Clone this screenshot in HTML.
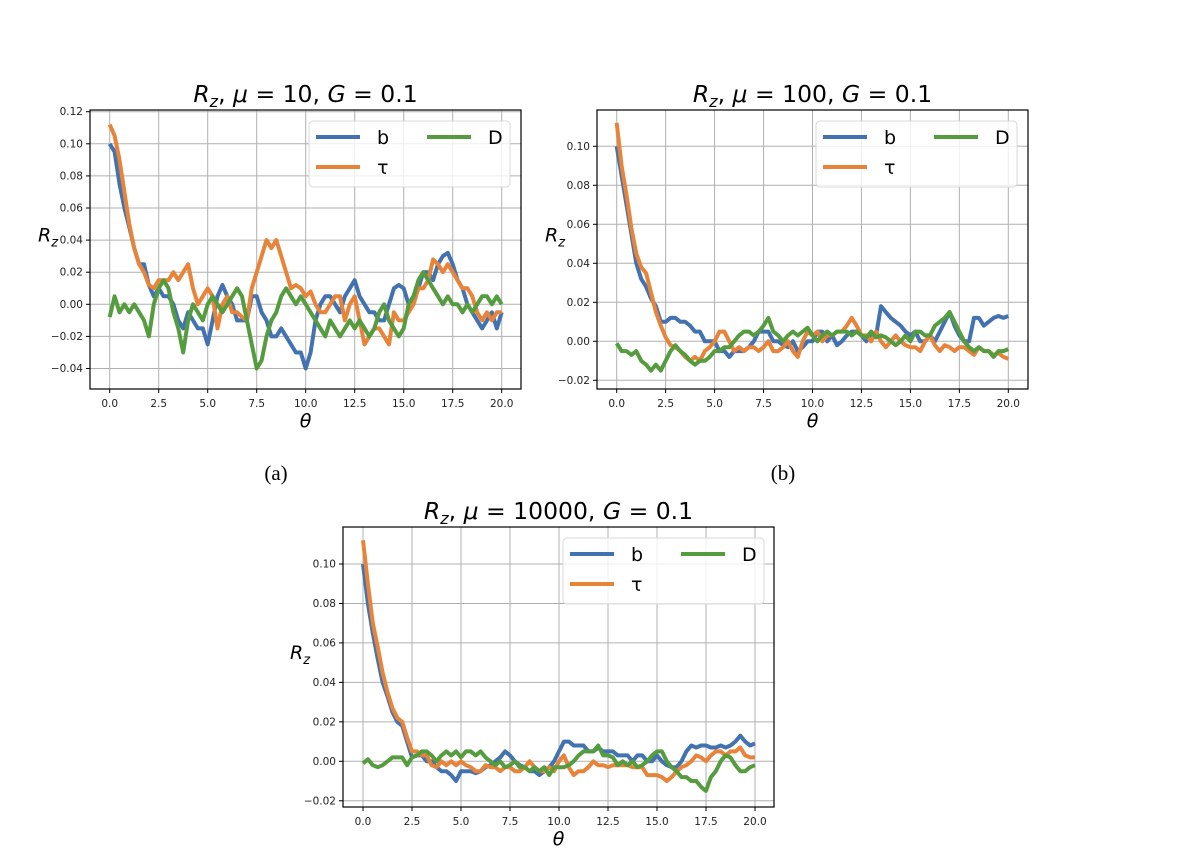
<!DOCTYPE html>
<html><head><meta charset="utf-8"><style>
body{margin:0;background:#fff;}
svg{display:block;font-family:"DejaVu Sans","Liberation Sans",sans-serif;}
</style></head><body>
<svg id="fig" width="1180" height="859" viewBox="0 0 1180 859">
<text x="276" y="480" font-family="'Liberation Serif',serif" font-size="21" text-anchor="middle">(a)</text>
<text x="783" y="480" font-family="'Liberation Serif',serif" font-size="21" text-anchor="middle">(b)</text>
</svg>
<script>
const theta = [0, 20];
const xTicks = ["0.0","2.5","5.0","7.5","10.0","12.5","15.0","17.5","20.0"];
const yTicksA = [-0.04,-0.02,0,0.02,0.04,0.06,0.08,0.10,0.12];
const yTicksB = [-0.02,0,0.02,0.04,0.06,0.08,0.10];
const yTicksC = [-0.02,0,0.02,0.04,0.06,0.08,0.10];

const bA = [0.10,0.095,0.075,0.06,0.048,0.035,0.025,0.025,0.012,0.005,0.01,0.005,0.005,0.0,-0.01,-0.015,-0.005,-0.01,-0.015,-0.015,-0.025,-0.01,0.005,0.012,0.005,0.0,-0.01,-0.01,-0.01,0.005,0.005,-0.005,-0.01,-0.02,-0.02,-0.015,-0.02,-0.025,-0.03,-0.03,-0.04,-0.03,-0.01,0.0,0.005,0.005,0.0,-0.005,0.005,0.01,0.015,0.005,0.0,-0.005,-0.005,-0.01,-0.01,0.0,0.01,0.012,0.01,0.0,0.005,0.01,0.02,0.02,0.015,0.025,0.03,0.032,0.025,0.015,0.01,0.0,-0.005,-0.01,-0.015,-0.01,-0.005,-0.015,-0.005];
const tauA = [0.112,0.105,0.09,0.07,0.05,0.035,0.025,0.02,0.012,0.01,0.015,0.015,0.015,0.02,0.015,0.02,0.025,0.01,0.0,0.005,0.01,0.005,-0.015,0.0,0.005,-0.005,-0.005,-0.008,-0.01,0.01,0.02,0.03,0.04,0.035,0.04,0.03,0.02,0.01,0.012,0.01,0.005,0.008,0.0,-0.005,-0.005,0.0,0.005,0.005,-0.01,0.0,0.005,-0.01,-0.025,-0.02,-0.015,-0.015,-0.02,-0.025,-0.005,-0.01,-0.01,-0.005,0.0,0.01,0.01,0.015,0.028,0.025,0.02,0.025,0.02,0.015,0.01,0.01,0.005,-0.005,-0.01,-0.005,-0.01,-0.005,-0.005];
const dA = [-0.008,0.005,-0.005,0.0,-0.005,0.0,-0.005,-0.01,-0.02,0.0,0.01,0.015,0.01,-0.005,-0.015,-0.03,-0.01,0.0,-0.005,-0.01,0.0,0.005,0.0,-0.005,0.0,0.005,0.01,0.005,-0.01,-0.025,-0.04,-0.035,-0.02,-0.01,-0.005,0.005,0.01,0.005,0.0,0.005,0.0,-0.005,-0.01,-0.015,-0.02,-0.01,-0.015,-0.02,-0.015,-0.01,-0.015,-0.01,-0.015,-0.02,-0.015,-0.005,0.0,-0.01,-0.015,-0.02,-0.015,0.0,0.005,0.015,0.02,0.015,0.01,0.005,0.0,0.005,0.0,0.0,-0.005,0.0,-0.005,0.0,0.005,0.005,0.0,0.005,0.0];

const bB = [0.10,0.085,0.07,0.055,0.04,0.032,0.028,0.022,0.018,0.01,0.01,0.012,0.012,0.01,0.01,0.008,0.005,0.005,0.0,0.0,0.0,-0.005,-0.005,-0.008,-0.005,-0.005,-0.005,-0.003,0.0,0.005,0.005,0.005,0.0,0.0,-0.002,-0.003,0.0,-0.005,-0.003,0.0,0.0,0.005,0.005,0.0,0.003,-0.002,0.0,0.003,0.005,0.005,0.003,0.0,0.003,0.003,0.018,0.015,0.012,0.01,0.008,0.005,0.003,0.005,0.0,0.0,0.003,0.0,0.005,0.01,0.015,0.008,0.003,0.0,0.0,0.012,0.012,0.008,0.01,0.012,0.013,0.012,0.013];
const tauB = [0.112,0.09,0.075,0.058,0.045,0.038,0.035,0.025,0.015,0.008,0.002,-0.002,-0.003,-0.005,-0.008,-0.01,-0.008,-0.01,-0.005,-0.003,0.0,0.005,0.005,0.0,-0.005,-0.003,-0.005,-0.003,-0.003,-0.005,-0.003,0.0,-0.005,-0.005,-0.003,0.0,-0.005,-0.008,0.0,0.005,0.003,0.005,0.0,0.003,0.003,0.005,0.005,0.008,0.012,0.008,0.003,0.003,0.0,0.005,0.0,-0.003,0.0,0.003,0.0,-0.002,-0.003,-0.003,-0.005,0.0,0.003,-0.002,-0.005,-0.002,-0.003,-0.005,-0.003,-0.003,-0.005,-0.007,-0.003,-0.005,-0.005,-0.007,-0.006,-0.008,-0.009];
const dB = [-0.001,-0.005,-0.005,-0.007,-0.005,-0.01,-0.012,-0.015,-0.012,-0.015,-0.01,-0.005,-0.002,-0.005,-0.007,-0.01,-0.012,-0.01,-0.01,-0.008,-0.005,-0.005,-0.003,-0.003,0.0,0.003,0.005,0.005,0.003,0.005,0.008,0.012,0.005,0.003,0.0,0.003,0.005,0.003,0.005,0.007,0.003,0.0,0.003,0.005,0.003,0.005,0.005,0.005,0.003,0.005,0.003,0.002,0.005,0.002,0.003,0.002,0.0,-0.002,0.0,0.003,0.0,0.005,0.005,0.003,0.003,0.008,0.01,0.012,0.015,0.01,0.005,0.0,-0.003,-0.005,-0.003,-0.005,-0.005,-0.008,-0.005,-0.005,-0.004];

const bC = [0.10,0.08,0.065,0.052,0.04,0.033,0.025,0.02,0.018,0.01,0.002,0.003,0.003,0.0,0.0,-0.003,-0.005,-0.005,-0.007,-0.01,-0.005,-0.005,-0.005,-0.006,-0.005,-0.003,-0.002,0.0,0.002,0.005,0.003,0.0,-0.002,-0.003,-0.005,-0.005,-0.007,-0.005,-0.003,0.0,0.005,0.01,0.01,0.008,0.008,0.008,0.005,0.005,0.007,0.005,0.005,0.005,0.003,0.003,0.003,0.0,0.003,0.003,0.0,0.0,0.003,0.0,-0.002,-0.003,-0.003,0.0,0.005,0.008,0.007,0.008,0.008,0.007,0.007,0.008,0.007,0.008,0.01,0.013,0.01,0.008,0.009];
const tauC = [0.112,0.09,0.07,0.058,0.045,0.035,0.027,0.022,0.02,0.012,0.005,0.005,0.003,0.003,-0.002,-0.003,0.0,-0.002,0.0,-0.002,0.0,-0.002,-0.003,-0.005,-0.005,-0.002,-0.003,-0.003,-0.005,-0.003,-0.003,-0.005,-0.005,-0.003,0.0,-0.003,-0.005,-0.005,-0.003,-0.005,0.0,0.003,-0.003,-0.007,-0.005,-0.005,-0.003,0.0,-0.002,-0.002,-0.003,-0.002,-0.002,-0.002,-0.002,-0.003,-0.003,-0.003,-0.007,-0.007,-0.007,-0.008,-0.01,-0.008,-0.005,-0.003,-0.002,0.0,0.003,0.002,0.0,0.003,0.005,0.005,0.003,0.005,0.005,0.007,0.003,0.002,0.002];
const dC = [-0.001,0.001,-0.002,-0.003,-0.002,0.0,0.002,0.002,0.002,-0.002,0.002,0.003,0.005,0.005,0.003,0.0,0.003,0.005,0.003,0.005,0.002,0.005,0.005,0.003,0.005,0.002,0.0,-0.002,0.0,-0.003,-0.002,0.0,-0.003,-0.003,-0.005,-0.003,-0.005,-0.003,-0.007,-0.003,-0.003,-0.003,-0.002,0.0,0.003,0.005,0.005,0.005,0.008,0.003,0.003,0.002,-0.002,0.0,-0.002,0.0,-0.003,-0.002,0.0,0.003,0.005,0.005,0.0,-0.003,-0.005,-0.008,-0.008,-0.01,-0.01,-0.013,-0.015,-0.008,-0.005,0.0,0.003,0.002,-0.002,-0.005,-0.005,-0.003,-0.002];

const NS='http://www.w3.org/2000/svg';
const svg=document.getElementById('fig');
function mk(tag,attrs,parent){const e=document.createElementNS(NS,tag);for(const k in attrs)e.setAttribute(k,attrs[k]);(parent||svg).appendChild(e);return e;}
const COL={b:'#4272b0',tau:'#e8843a',D:'#559c3f'};

function panel(P){
  const g=mk('g',{});
  
  
  const xs=v=>P.x0+(v-theta[0])/(theta[1]-theta[0])*(P.x20-P.x0);
  const ys=v=>P.y0+(P.yRef-P.y0)*(v/P.vRef);
  xTicks.forEach(t=>{const X=xs(parseFloat(t));
    const l=mk('line',{x1:X,x2:X,y1:P.top,y2:P.bot,stroke:'#b0b0b0','stroke-width':1},g);
    
    mk('line',{x1:X,x2:X,y1:P.bot,y2:P.bot+4,stroke:'#000','stroke-width':1},g);
    const tx=mk('text',{x:X,y:P.bot+18,'font-size':10.5,'text-anchor':'middle',fill:'#222'},g);tx.textContent=t;
    
  });
  P.yt.forEach(v=>{const Y=ys(v);
    const l=mk('line',{x1:P.left,x2:P.right,y1:Y,y2:Y,stroke:'#b0b0b0','stroke-width':1},g);
    
    mk('line',{x1:P.left-4,x2:P.left,y1:Y,y2:Y,stroke:'#000','stroke-width':1},g);
    const tx=mk('text',{x:P.left-7,y:Y+3.5,'font-size':10.5,'text-anchor':'end',fill:'#222'},g);
    tx.textContent=(v<0?'\u2212':'')+Math.abs(v).toFixed(2);
    
  });
  const cid='clip'+P.name;const cp=mk('clipPath',{id:cid},g);mk('rect',{x:P.left,y:P.top,width:P.right-P.left,height:P.bot-P.top},cp);
  [['b',P.b],['tau',P.tau],['D',P.d]].forEach(([k,arr])=>{
    const n=arr.length;
    const pts=arr.map((v,i)=>xs(theta[0]+i*(theta[1]-theta[0])/(n-1)).toFixed(1)+','+ys(v).toFixed(1)).join(' ');
    const pl=mk('polyline',{points:pts,fill:'none',stroke:COL[k],'stroke-width':4,'stroke-linejoin':'round','clip-path':'url(#'+cid+')'},g);
    
  });
  const fr=mk('rect',{x:P.left,y:P.top,width:P.right-P.left,height:P.bot-P.top,fill:'none',stroke:'#000','stroke-width':1.2},g);
  
  const L=P.leg;
  const lr=mk('rect',{x:L.x,y:L.y,width:201,height:66,rx:4,fill:'#fff','fill-opacity':0.8,stroke:'#d8d8d8'},g);
  
  [['b','b',0,0],['tau','\u03c4',0,30],['D','D',111,0]].forEach(([k,lab,dx,dy])=>{
    const ln=mk('line',{x1:L.x+7+dx,x2:L.x+51+dx,y1:L.y+16+dy,y2:L.y+16+dy,stroke:COL[k],'stroke-width':4},g);
    
    const t=mk('text',{x:L.x+68+dx,y:L.y+23+dy,'font-size':19,fill:'#000'},g);t.textContent=lab;
    
  });
  const cx=(P.left+P.right)/2;
  const ti=mk('text',{x:cx,y:P.top-8,'font-size':23.5,'text-anchor':'middle'},g);
  ti.innerHTML='<tspan font-style="italic">R</tspan><tspan font-style="italic" font-size="16" dy="5">z</tspan><tspan dy="-5">, </tspan><tspan font-style="italic">\u03bc</tspan> = '+P.mu+', <tspan font-style="italic">G</tspan> = 0.1';
  
  const xl=mk('text',{x:cx,y:P.bot+38,'font-size':19,'font-style':'italic','text-anchor':'middle'},g);xl.textContent='\u03b8';
  
  const yl=mk('text',{x:P.ylx,y:(P.top+P.bot)/2-8,'font-size':19,'text-anchor':'middle'},g);
  yl.innerHTML='<tspan font-style="italic">R</tspan><tspan font-style="italic" font-size="13" dy="5">z</tspan>';
  
}
panel({name:'panel-a',mu:'10',left:90,right:521,top:110,bot:389,x0:109.7,x20:501.7,y0:304.3,yRef:111.7,vRef:0.12,yt:yTicksA,b:bA,tau:tauA,d:dA,leg:{x:309,y:121},ylx:48});
panel({name:'panel-b',mu:'100',left:597,right:1028,top:110,bot:389,x0:616.7,x20:1008.3,y0:341.3,yRef:146.3,vRef:0.10,yt:yTicksB,b:bB,tau:tauB,d:dB,leg:{x:816,y:121},ylx:555});
panel({name:'panel-c',mu:'10000',left:343,right:774,top:527,bot:807,x0:363,x20:755,y0:761.3,yRef:564,vRef:0.10,yt:yTicksC,b:bC,tau:tauC,d:dC,leg:{x:563,y:538},ylx:300});
</script>
</body></html>
